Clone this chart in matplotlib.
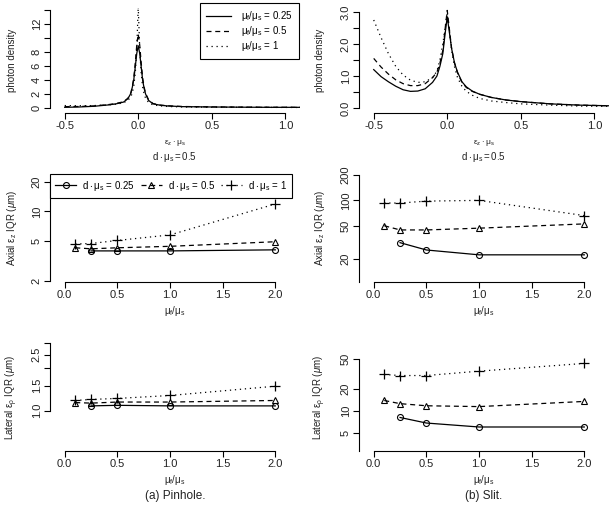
import numpy as np
import matplotlib
matplotlib.use('Agg')
import matplotlib.pyplot as plt
from matplotlib.ticker import NullLocator

plt.rcParams['font.family'] = ['Liberation Sans', 'DejaVu Sans']
plt.rcParams['mathtext.fontset'] = 'custom'
plt.rcParams['mathtext.rm'] = 'Liberation Sans'
plt.rcParams['mathtext.it'] = 'Liberation Sans:italic'

# photon density curves (eps_z * mu_s), pinhole
xp = [-0.5, -0.4, -0.3, -0.2, -0.15, -0.1, -0.07, -0.05, -0.04, -0.03, -0.02, -0.01, 0.0,
      0.01, 0.02, 0.03, 0.04, 0.05, 0.07, 0.1, 0.15, 0.2, 0.3, 0.5, 0.7, 0.9, 1.1]
pin_025 = [0.1, 0.15, 0.25, 0.45, 0.6, 0.85, 1.35, 2.1, 3.0, 4.1, 5.9, 7.8, 8.9,
           7.8, 5.9, 4.0, 2.8, 2.0, 1.1, 0.6, 0.4, 0.3, 0.2, 0.15, 0.12, 0.1, 0.1]
pin_05 = [0.2, 0.22, 0.3, 0.5, 0.65, 0.9, 1.4, 2.2, 3.1, 4.4, 6.5, 9.0, 10.6,
          9.0, 6.5, 4.3, 3.0, 2.1, 1.2, 0.65, 0.42, 0.32, 0.22, 0.16, 0.13, 0.11, 0.1]
pin_1 = [0.35, 0.33, 0.35, 0.45, 0.55, 0.75, 1.1, 1.6, 2.2, 3.2, 5.0, 8.5, 14.5,
         8.5, 5.0, 3.0, 2.0, 1.4, 0.8, 0.45, 0.3, 0.22, 0.15, 0.12, 0.1, 0.09, 0.08]

# photon density curves, slit
xs = [-0.5, -0.45, -0.4, -0.35, -0.3, -0.25, -0.2, -0.15, -0.1, -0.07, -0.05, -0.03, -0.015, 0.0,
      0.015, 0.03, 0.05, 0.07, 0.1, 0.13, 0.17, 0.22, 0.3, 0.4, 0.5, 0.7, 0.9, 1.1]
slit_025 = [1.2, 0.98, 0.82, 0.68, 0.57, 0.52, 0.53, 0.6, 0.8, 1.0, 1.3, 1.7, 2.3, 2.85,
            2.35, 1.85, 1.4, 1.12, 0.82, 0.66, 0.53, 0.43, 0.33, 0.25, 0.2, 0.13, 0.09, 0.07]
slit_05 = [1.55, 1.28, 1.06, 0.88, 0.76, 0.7, 0.7, 0.76, 0.95, 1.12, 1.4, 1.8, 2.45, 3.05,
           2.45, 1.85, 1.4, 1.1, 0.8, 0.64, 0.52, 0.43, 0.33, 0.25, 0.2, 0.13, 0.09, 0.07]
slit_1 = [2.75, 2.2, 1.7, 1.3, 1.03, 0.87, 0.8, 0.82, 0.95, 1.15, 1.5, 2.0, 2.5, 2.95,
          2.4, 1.8, 1.28, 0.95, 0.68, 0.52, 0.4, 0.3, 0.22, 0.17, 0.13, 0.09, 0.06, 0.05]

# IQR vs mu_f/mu_s
ratio = [0.1, 0.25, 0.5, 1.0, 2.0]
ratio_c = [0.25, 0.5, 1.0, 2.0]
pin_ax_025 = [4.0, 4.0, 4.0, 4.1]
pin_ax_05 = [4.3, 4.2, 4.3, 4.45, 4.95]
pin_ax_1 = [4.7, 4.75, 5.1, 5.8, 11.9]
slit_ax_025 = [31.5, 25.8, 22.6, 22.6]
slit_ax_05 = [50, 44.6, 44.6, 46.8, 52.6]
slit_ax_1 = [93, 93, 98, 100, 66]
pin_lat_025 = [1.08, 1.09, 1.08, 1.08]
pin_lat_05 = [1.14, 1.13, 1.15, 1.15, 1.18]
pin_lat_1 = [1.18, 1.20, 1.22, 1.28, 1.49]
slit_lat_025 = [8.2, 6.9, 6.1, 6.1]
slit_lat_05 = [13.9, 12.6, 11.8, 11.5, 13.5]
slit_lat_1 = [31.2, 30.2, 30.2, 34.6, 44]

W, H = 614, 507
fig = plt.figure(figsize=(W / 100, H / 100), dpi=100)
DOT = (1, 3)
DASH = (4, 3)


def px_axes(x0, y0, x1, y1):
    return fig.add_axes([x0 / W, 1 - y1 / H, (x1 - x0) / W, (y1 - y0) / H])


def ftext(x, y, s, **kw):
    fig.text(x / W, 1 - y / H, s, ha='center', va='center', color='#222222', **kw)


def r_style(ax, xb, yb, xt, yt, ytl, log=False):
    for s in ['top', 'right']:
        ax.spines[s].set_visible(False)
    ax.spines['left'].set_bounds(*yb)
    ax.spines['bottom'].set_bounds(*xb)
    ax.spines['left'].set_linewidth(0.8)
    ax.spines['bottom'].set_linewidth(0.8)
    if log:
        ax.set_yscale('log')
    ax.set_xticks(xt)
    ax.set_xticklabels(['%.1f' % v for v in xt])
    ax.set_yticks(yt)
    ax.set_yticklabels(ytl)
    ax.yaxis.set_minor_locator(NullLocator())
    ax.tick_params(direction='out', length=4, width=0.8, labelsize=8, pad=2,
                   labelcolor='#222222')
    ax.tick_params(axis='y', labelrotation=90)
    for lab in ax.get_yticklabels():
        lab.set_va('center')


cols = [(50, 300), (359, 609)]
rows = [(8, 113), (174, 281.7), (343, 450.7)]

# row 1: photon density
ax1 = px_axes(cols[0][0], rows[0][0], cols[0][1], rows[0][1])
ax1.plot(xp, pin_025, 'k-', lw=0.9, label=r'$\mathregular{μ_f/μ_s}$ = 0.25')
ax1.plot(xp, pin_05, 'k--', lw=0.9, dashes=DASH, label=r'$\mathregular{μ_f/μ_s}$ = 0.5')
ax1.plot(xp, pin_1, 'k:', lw=0.9, dashes=DOT, label=r'$\mathregular{μ_f/μ_s}$ = 1')
ax1.set_xlim(-0.6, 1.1)
ax1.set_ylim(-0.71, 14.29)
r_style(ax1, (-0.5, 1.0), (0, 14), [-0.5, 0.0, 0.5, 1.0],
        [0, 2, 4, 6, 8, 10, 12, 14], ['0', '2', '4', '6', '8', '', '12', ''])
leg1 = ax1.legend(loc='upper right', bbox_to_anchor=(0.995, 1.045), fontsize=7,
                  frameon=True, fancybox=False, edgecolor='black', framealpha=1,
                  handlelength=2.6, borderaxespad=0, borderpad=0.6, labelspacing=0.1,
                  handletextpad=1.0)
leg1.get_frame().set_linewidth(0.8)

ax2 = px_axes(cols[1][0], rows[0][0], cols[1][1], rows[0][1])
ax2.plot(xs, slit_025, 'k-', lw=0.9)
ax2.plot(xs, slit_05, 'k--', lw=0.9, dashes=DASH)
ax2.plot(xs, slit_1, 'k:', lw=0.9, dashes=DOT)
ax2.set_xlim(-0.6, 1.1)
ax2.set_ylim(-0.156, 3.125)
r_style(ax2, (-0.5, 1.0), (0, 3), [-0.5, 0.0, 0.5, 1.0],
        [0, 0.5, 1, 1.5, 2, 2.5, 3], ['0.0', '', '1.0', '', '2.0', '', '3.0'])

# rows 2 and 3: axial and lateral IQR
ax3 = px_axes(cols[0][0], rows[1][0], cols[0][1], rows[1][1])
ax4 = px_axes(cols[1][0], rows[1][0], cols[1][1], rows[1][1])
ax5 = px_axes(cols[0][0], rows[2][0], cols[0][1], rows[2][1])
ax6 = px_axes(cols[1][0], rows[2][0], cols[1][1], rows[2][1])

series = [(ax3, pin_ax_025, pin_ax_05, pin_ax_1),
          (ax4, slit_ax_025, slit_ax_05, slit_ax_1),
          (ax5, pin_lat_025, pin_lat_05, pin_lat_1),
          (ax6, slit_lat_025, slit_lat_05, slit_lat_1)]
for ax, a, b, c in series:
    ax.plot(ratio_c, a, 'k-', lw=0.9, marker='o', ms=4.3, mfc='none', mew=0.8,
            label=r'$\mathregular{d \cdot μ_s}$ = 0.25')
    ax.plot(ratio, b, 'k--', lw=0.9, dashes=DASH, marker='^', ms=5, mfc='none', mew=0.8,
            label=r'$\mathregular{d \cdot μ_s}$ = 0.5')
    ax.plot(ratio, c, 'k:', lw=0.9, dashes=DOT, marker='+', ms=7, mew=0.9,
            label=r'$\mathregular{d \cdot μ_s}$ = 1')
    ax.set_xlim(-0.14, 2.235)

xt = [0.0, 0.5, 1.0, 1.5, 2.0]
ax3.set_ylim(1.955, 23.9)
r_style(ax3, (0, 2), (2, 20), xt, [2, 5, 10, 20], ['2', '5', '10', '20'], log=True)
ax4.set_ylim(10.85, 205.5)
r_style(ax4, (0, 2), (10.85, 200), xt, [20, 50, 100, 200], ['20', '50', '100', '200'], log=True)
ax5.set_ylim(0.519, 3.02)
r_style(ax5, (0, 2), (1.0, 3.0), xt, [1.0, 1.5, 2.0, 2.5, 3.0],
        ['1.0', '1.5', '', '2.5', ''], log=True)
ax6.set_ylim(2.92, 83)
r_style(ax6, (0, 2), (2.92, 50), xt, [5, 10, 20, 50], ['5', '10', '20', '50'], log=True)

leg = ax3.legend(loc='upper left', ncol=3, fontsize=7, frameon=True, fancybox=False,
                 edgecolor='black', framealpha=1, handlelength=2.2, borderaxespad=0,
                 columnspacing=0.6, handletextpad=0.6, borderpad=0.5)
leg.get_frame().set_linewidth(0.8)

# axis labels and captions
for cx, cy in [(12, 60), (320, 60)]:
    ftext(cx, cy, 'photon density', fontsize=7, rotation=90)
for cx in [175, 484]:
    ftext(cx, 143, r'$\mathregular{ε_z \cdot μ_s}$', fontsize=6)
    ftext(cx, 157, r'$\mathregular{d \cdot μ_s = 0.5}$', fontsize=7)
    ftext(cx, 311, r'$\mathregular{μ_f/μ_s}$', fontsize=7)
    ftext(cx, 480, r'$\mathregular{μ_f/μ_s}$', fontsize=7)
for cx in [12, 320]:
    ftext(cx, 228, r'Axial $\mathregular{ε_z}$ IQR ($\it{μ}$m)', fontsize=7, rotation=90)
    ftext(cx, 397, r'Lateral $\mathregular{ε_ρ}$ IQR ($\it{μ}$m)', fontsize=7, rotation=90)
ftext(175, 496, '(a) Pinhole.', fontsize=8.5)
ftext(484, 496, '(b) Slit.', fontsize=8.5)

plt.savefig('out.png', dpi=100)
